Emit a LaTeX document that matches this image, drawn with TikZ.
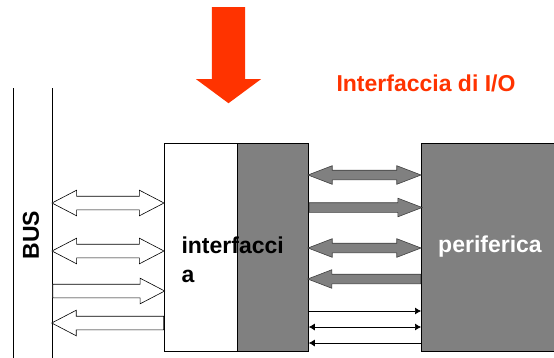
\documentclass[tikz,border=0pt]{standalone}
\usepackage{fontspec}
\setmainfont{Liberation Sans}
\usetikzlibrary{shapes.arrows,arrows.meta,positioning}

\definecolor{ioorange}{RGB}{255,51,0}
\definecolor{boxgray}{RGB}{128,128,128}

\tikzset{
  box/.style={draw, line width=0.8pt, inner sep=0pt, anchor=north west},
  busarrow/.style={draw, fill=white, line width=0.6pt, inner sep=6.5pt, minimum height=112pt,
    single arrow head extend=6pt, single arrow tip angle=55,
    double arrow head extend=6pt, double arrow tip angle=55},
  fatarrow/.style={draw=black!75, fill=boxgray, line width=0.6pt, inner sep=4.5pt, minimum height=113pt,
    single arrow head extend=4.5pt, single arrow tip angle=42,
    double arrow head extend=4.5pt, double arrow tip angle=42},
  wire/.style={line width=0.7pt, >={Latex[length=6pt,width=7pt]}},
  bigtext/.style={font=\fontsize{23}{29}\selectfont\bfseries}
}

\begin{document}
\begin{tikzpicture}[x=1pt,y=-1pt]
    \useasboundingbox (0,0) rectangle (554,357);

    % Bus lines and label
    \node[inner sep=0pt, anchor=north west, minimum width=39pt, minimum height=270pt] (bus) at (13,88) {};
    \draw[line width=0.8pt] (bus.north west) -- (bus.south west);
    \draw[line width=0.8pt] (bus.north east) -- (bus.south east);
    \node[bigtext, rotate=90] (buslabel) at (31,235) {BUS};

    % Interface block: white part and gray register part
    \node[box, fill=white, minimum width=73pt, minimum height=208pt] (ifc) at (164,143) {};
    \node[box, fill=boxgray, minimum width=71pt, minimum height=208pt] (reg) at (237,143) {};
    \node[bigtext, align=left, anchor=base west] (ifctext) at (178,282) {interfacci\\a};

    % Peripheral block
    \node[box, fill=boxgray, minimum width=136pt, minimum height=208pt] (dev) at (421,143) {};
    \node[bigtext, text=white] (devtext) at (490,247) {periferica};

    % Title and big arrow
    \node[bigtext, text=ioorange, anchor=west] (title) at (333,83) {Interfaccia di I/O};
    \node[single arrow, fill=ioorange, shape border rotate=270, inner sep=16.5pt, anchor=tail,
          single arrow head extend=16pt, single arrow tip angle=107, minimum height=96pt] (down) at (228.5,7) {};

    % Bus side arrows
    \node[busarrow, double arrow] (b1) at (108,203) {};
    \node[busarrow, double arrow] (b2) at (108,251) {};
    \node[busarrow, single arrow, anchor=tail] (b3) at (bus.east |- 0,291) {};
    \node[busarrow, single arrow, shape border rotate=180, anchor=tail] (b4) at (ifc.west |- 0,323) {};

    % Peripheral side arrows
    \node[fatarrow, double arrow] (p1) at (364.5,175) {};
    \node[fatarrow, single arrow, anchor=tail] (p2) at (reg.east |- 0,207.5) {};
    \node[fatarrow, double arrow] (p3) at (364.5,248) {};
    \node[fatarrow, single arrow, shape border rotate=180, anchor=tail] (p4) at (dev.west |- 0,279) {};

    % Control lines
    \draw[wire, ->] (reg.east |- 0,311) -- (dev.west |- 0,311);
    \draw[wire, <->] (reg.east |- 0,327) -- (dev.west |- 0,327);
    \draw[wire, <-] (reg.east |- 0,343) -- (dev.west |- 0,343);
\end{tikzpicture}
\end{document}
